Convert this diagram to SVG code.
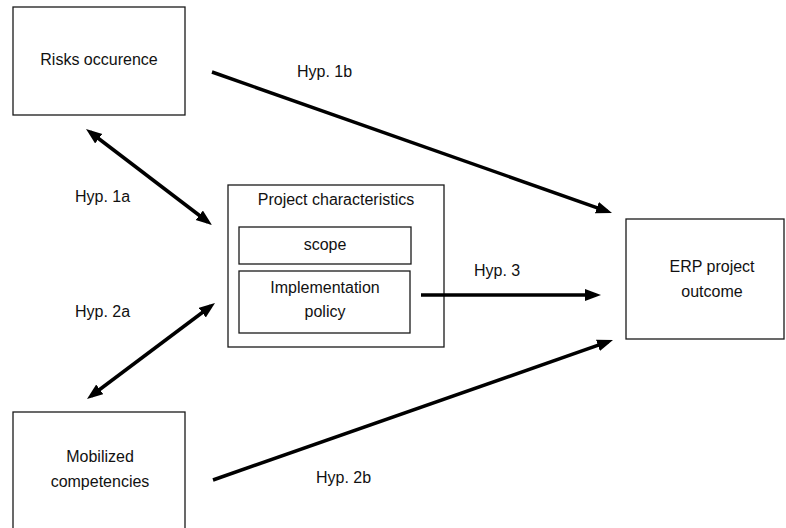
<svg xmlns="http://www.w3.org/2000/svg" width="786" height="528" viewBox="0 0 786 528">
<style>
.box{fill:#fff;stroke:#1a1a1a;stroke-width:1.3}
.t{font-family:"Liberation Sans",Arial,sans-serif;font-size:16px;fill:#111;text-anchor:middle}
.lbl{font-family:"Liberation Sans",Arial,sans-serif;font-size:16px;fill:#111}
.c{stroke:#000;stroke-width:3.5;fill:none;marker-end:url(#ah)}
.c2{stroke:#000;stroke-width:3.5;fill:none;marker-end:url(#ah);marker-start:url(#ah)}
</style>
<defs>
<marker id="ah" markerUnits="userSpaceOnUse" markerWidth="17" markerHeight="13" refX="11" refY="6" orient="auto-start-reverse" viewBox="0 0 17 13">
<path d="M0,0 L16,6 L0,12 z" fill="#000"/>
</marker>
</defs>
<rect width="786" height="528" fill="#fff"/>
<g id="risks">
<rect class="box" x="13" y="7" width="172" height="108"/>
<text class="t" x="99" y="65">Risks occurence</text>
</g>
<g id="project">
<rect class="box" x="228" y="185" width="216" height="162"/>
<text class="t" x="336" y="205">Project characteristics</text>
</g>
<g id="scope">
<rect class="box" x="239" y="227" width="172" height="37"/>
<text class="t" x="325" y="250">scope</text>
</g>
<g id="policy">
<rect class="box" x="239" y="271" width="171" height="62"/>
<text class="t" x="325" y="293">Implementation</text>
<text class="t" x="325" y="317">policy</text>
</g>
<g id="erp">
<rect class="box" x="626" y="219" width="158" height="120"/>
<text class="t" x="712" y="272">ERP project</text>
<text class="t" x="712" y="297">outcome</text>
</g>
<g id="mobilized">
<rect class="box" x="13" y="412" width="172" height="130"/>
<text class="t" x="100" y="462">Mobilized</text>
<text class="t" x="100" y="487">competencies</text>
</g>
<g id="connectors">
<line class="c" x1="212" y1="72" x2="607.3" y2="211.3"/>
<line class="c2" x1="90" y1="132" x2="208" y2="222"/>
<line class="c2" x1="211" y1="306" x2="91" y2="396"/>
<line class="c" x1="421" y1="295" x2="596" y2="295"/>
<line class="c" x1="213" y1="480" x2="608.3" y2="341.7"/>
</g>
<g id="labels">
<text class="lbl" x="297" y="77">Hyp. 1b</text>
<text class="lbl" x="75" y="202">Hyp. 1a</text>
<text class="lbl" x="75" y="317">Hyp. 2a</text>
<text class="lbl" x="474" y="276">Hyp. 3</text>
<text class="lbl" x="316" y="483">Hyp. 2b</text>
</g>
</svg>
